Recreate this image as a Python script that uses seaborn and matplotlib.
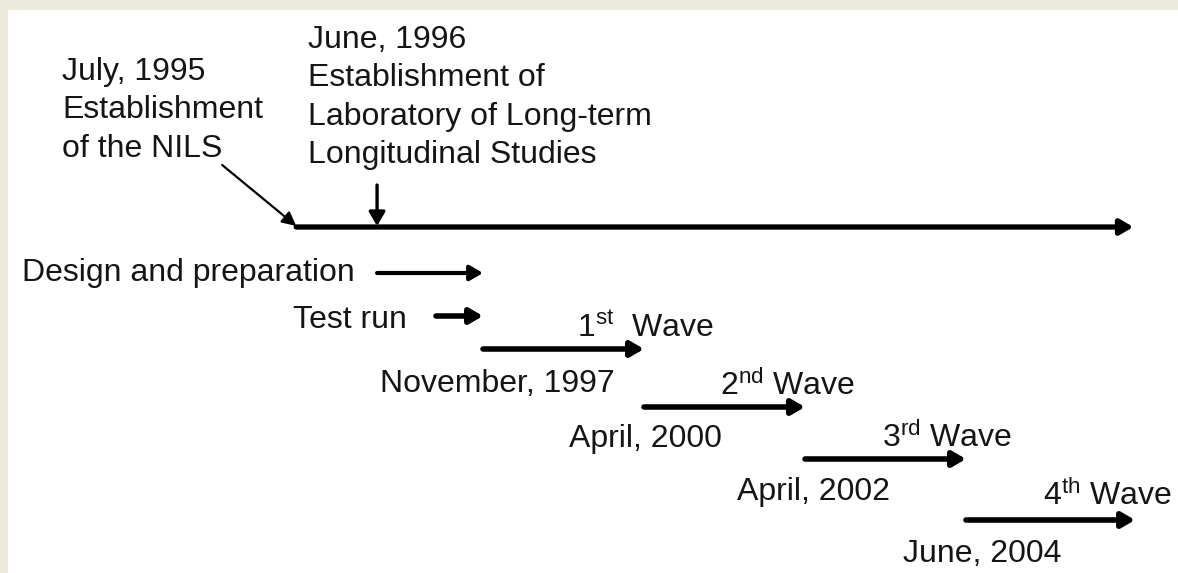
import matplotlib
matplotlib.use("Agg")
import matplotlib.pyplot as plt
import seaborn as sns

# schematic timeline: x in "survey slots" (one slot = one wave interval), y in rows
main_start, main_end, main_y = -0.16, 5.04, 227

# wave arrows
wave_start = [1, 2, 3, 4]
wave_end = [2, 3, 4, 5.05]
wave_y = [349, 407, 459, 520]
wave_labels = [r"1$^{\mathrm{st}}$  Wave", r"2$^{\mathrm{nd}}$ Wave",
               r"3$^{\mathrm{rd}}$ Wave", r"4$^{\mathrm{th}}$ Wave"]
wave_label_x = [1.584, 2.472, 3.478, 4.478]
wave_label_y = [337, 395, 447, 505]
wave_dates = ["November, 1997", "April, 2000", "April, 2002", "June, 2004"]
date_x = [0.36, 1.534, 2.578, 3.609]
date_y = [392, 447, 500, 562]

# preparation phases
phase_labels = ["Design and preparation", "Test run"]
phase_start = [0.342, 0.708]
phase_end = [1.0, 1.0]
phase_y = [273, 316]
phase_label_x = [-1.863, -0.180]
phase_label_y = [281, 328]
phase_width = [3.0, 4.0]

# milestones on the main line
nils_lines = ["July, 1995", "Establishment", "of the NILS"]
nils_x, nils_y0 = -1.615, 80
nils_from = (-0.62, 165)
lab_lines = ["June, 1996", "Establishment of", "Laboratory of Long-term", "Longitudinal Studies"]
lab_x, lab_y0 = -0.087, 48
lab_pos, lab_top = 0.342, 185
line_step = 38.5

sns.set_theme(style="white")
plt.rcParams["font.family"] = ["Liberation Sans", "DejaVu Sans"]
plt.rcParams["mathtext.fontset"] = "custom"
plt.rcParams["mathtext.rm"] = "Liberation Sans"
plt.rcParams["mathtext.it"] = "Liberation Sans:italic"

W, H = 1178, 573
bg = "#ecebdb"
fig = plt.figure(figsize=(W / 100, H / 100), dpi=100, facecolor=bg)
ax = fig.add_axes([8 / W, 0, 1 - 8 / W, 1 - 10 / H])
ax.set_facecolor("white")
x0 = (8 - 322) / 161
x1 = (W - 322) / 161
ax.set_xlim(x0, x1)
ax.set_ylim(H, 10)
ax.set_axis_off()
ax.add_patch(plt.Rectangle((0, 0), 1, 1, transform=ax.transAxes, color="white", zorder=0))

fs = 23
tc = "#151515"


def arrow(xa, ya, xb, yb, lw, hl=0.55, hw=0.32):
    ax.annotate("", xy=(xb, yb), xytext=(xa, ya),
                arrowprops=dict(arrowstyle=f"-|>,head_length={hl},head_width={hw}",
                                color="black", lw=lw, shrinkA=0, shrinkB=0,
                                mutation_scale=14))


# main timeline
arrow(main_start, main_y, main_end, main_y, 3.8)

# milestones
arrow(nils_from[0], nils_from[1], main_start, main_y - 1, 1.6, 0.6, 0.3)
arrow(lab_pos, lab_top, lab_pos, main_y - 1, 2.4, 0.6, 0.35)
for i, t in enumerate(nils_lines):
    ax.text(nils_x, nils_y0 + i * line_step, t, fontsize=fs, color=tc, ha="left", va="baseline")
for i, t in enumerate(lab_lines):
    ax.text(lab_x, lab_y0 + i * line_step, t, fontsize=fs, color=tc, ha="left", va="baseline")

# phases
for lab, s, e, y, lx, ly, lw in zip(phase_labels, phase_start, phase_end, phase_y,
                                    phase_label_x, phase_label_y, phase_width):
    arrow(s, y, e, y, lw)
    ax.text(lx, ly, lab, fontsize=fs, color=tc, ha="left", va="baseline")

# waves
for s, e, y, lab, lx, ly, d, dx, dy in zip(wave_start, wave_end, wave_y, wave_labels,
                                           wave_label_x, wave_label_y, wave_dates, date_x, date_y):
    arrow(s, y, e, y, 4.0)
    ax.text(lx, ly, lab, fontsize=fs, color=tc, ha="left", va="baseline")
    ax.text(dx, dy, d, fontsize=fs, color=tc, ha="left", va="baseline")

fig.savefig("out.png", dpi=100, facecolor=bg)
